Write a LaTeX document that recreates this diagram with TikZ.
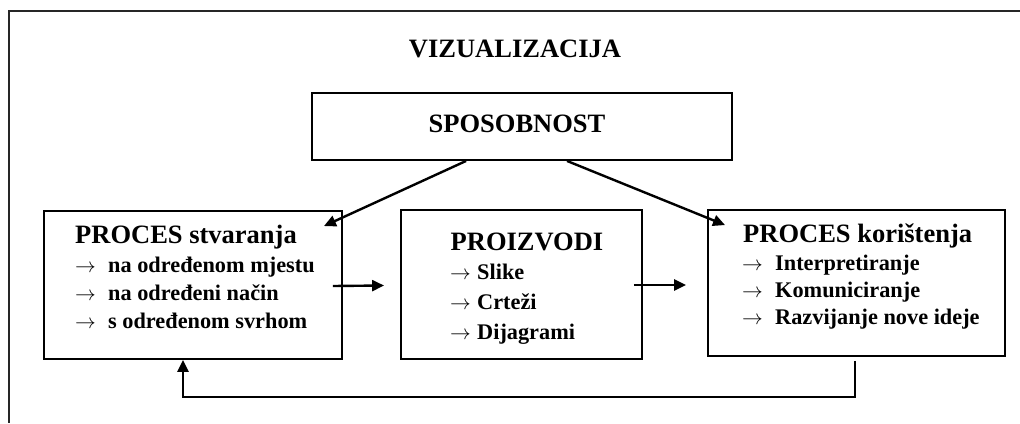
\documentclass[tikz,border=0pt]{standalone}
\usepackage{fontspec}
\setmainfont{Liberation Serif}
\usetikzlibrary{arrows.meta,calc}
\begin{document}
\begin{tikzpicture}[x=1pt,y=-1pt,
  box/.style={draw, line width=1.9pt, inner sep=0pt},
  head/.style={inner sep=0pt, font=\bfseries\fontsize{26.5}{30}\selectfont},
  txt/.style={inner sep=0pt, font=\bfseries\fontsize{22.3}{26}\selectfont},
  conn/.style={line width=2.4pt, -{Triangle[length=12pt,width=11pt]}}]
\useasboundingbox (0,0) rectangle (1020,423);
% outer frame
\draw[line width=2.6pt, color=black!85] (1020,11) -- (9,11) -- (9,423);
% title
\node[head, anchor=base] (title) at (515,57) {VIZUALIZACIJA};
% boxes
\node[box, minimum width=420pt, minimum height=67pt] (sp) at (522,126.5) {};
\node[head, anchor=base] (spt) at (517,132) {SPOSOBNOST};
\node[box, minimum width=298pt, minimum height=148pt] (lb) at (193,285) {};
\node[box, minimum width=241pt, minimum height=149pt] (mb) at (521.5,284.5) {};
\node[box, minimum width=297pt, minimum height=146pt] (rb) at (856.5,283) {};
% left box text
\node[head, anchor=base west] (lh) at (75,243) {PROCES stvaranja};
\node[txt, anchor=base west] (la1) at (75,272) {$\rightarrow$};
\node[txt, anchor=base west] (lt1) at (108,272) {na određenom mjestu};
\node[txt, anchor=base west] (la2) at (75,300) {$\rightarrow$};
\node[txt, anchor=base west] (lt2) at (108,300) {na određeni način};
\node[txt, anchor=base west] (la3) at (75,328) {$\rightarrow$};
\node[txt, anchor=base west] (lt3) at (108,328) {s određenom svrhom};
% middle box text
\node[head, anchor=base] (mh) at (527,250) {PROIZVODI};
\node[txt, anchor=base west] (ma1) at (450,279) {$\rightarrow$};
\node[txt, anchor=base west] (mt1) at (477,279) {Slike};
\node[txt, anchor=base west] (ma2) at (450,309) {$\rightarrow$};
\node[txt, anchor=base west] (mt2) at (477,309) {Crteži};
\node[txt, anchor=base west] (ma3) at (450,339) {$\rightarrow$};
\node[txt, anchor=base west] (mt3) at (477,339) {Dijagrami};
% right box text
\node[head, anchor=base west] (rh) at (743,242) {PROCES korištenja};
\node[txt, anchor=base west] (ra1) at (742,270) {$\rightarrow$};
\node[txt, anchor=base west] (rt1) at (775,270) {Interpretiranje};
\node[txt, anchor=base west] (ra2) at (742,297) {$\rightarrow$};
\node[txt, anchor=base west] (rt2) at (775,297) {Komuniciranje};
\node[txt, anchor=base west] (ra3) at (742,324) {$\rightarrow$};
\node[txt, anchor=base west] (rt3) at (775,324) {Razvijanje nove ideje};
% connectors
\draw[conn] ($(sp.south west)+(155,0)$) -- ($(lb.north east)+(-19,16)$);
\draw[conn] ($(sp.south west)+(256,0)$) -- ($(rb.north west)+(18,16)$);
\draw[conn] ($(lb.east)+(-10,1)$) -- ($(mb.west)+(-16,1)$);
\draw[conn] ($(mb.east)+(-9,0.5)$) -- ($(rb.west)+(-21,2)$);
\coordinate (fbR) at (855,397);
\coordinate (fbL) at (183,397);
\draw[conn, line join=miter] ($(rb.south)+(-1.5,4)$) -- (fbR) -- (fbL) -- (lb.south -| fbL);
\end{tikzpicture}
\end{document}
